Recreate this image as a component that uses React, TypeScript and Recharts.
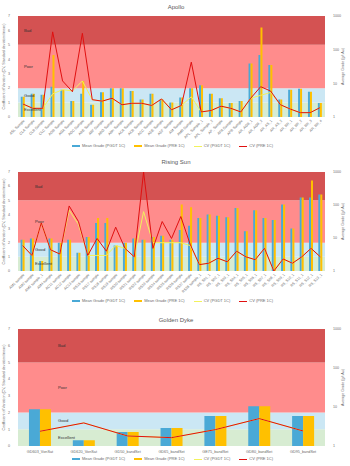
import React from "react";
import { ComposedChart, Bar, Line, XAxis, YAxis, ReferenceArea, Legend } from "recharts";

const FONT = "'Liberation Sans', Arial, sans-serif";
const BLUE = "#4aa9d6";
const GOLD = "#ffc000";
const CV_YELLOW = "#f2f25c";
const CV_RED = "#e01010";

const seriesNames = ["Mean Grade (PGDT 1C)", "Mean Grade (PRE 1C)", "CV (PGDT 1C)", "CV (PRE 1C)"];
const cvTicks = [0, 1, 2, 3, 4, 5, 6, 7];
const gradeTicks = [1, 10, 100, 1000];
const bandNames = ["Excellent", "Good", "Poor", "Bad"];
const bandLimits = [0, 1, 2, 5, 7];

// Apollo
const apolloCats = [
  "ASL Sample", "CLA Sample", "CLB Sample", "CLC Sample", "AGB Sample", "AGA Sample", "AGC Sample",
  "ABE Sample", "ABF Sample", "ABG Sample", "ABH Sample", "ACA Sample", "ACB Sample", "ACC Sample",
  "ADE Sample", "ADF Sample", "AM Sample", "AMB Sample", "APL_Sample_1", "APL_Sample_2", "AP_Sample",
  "APA Sample", "APB Sample", "AR_AGB_1", "AR_AGB_2", "AR_AS_1", "AR_AS_2", "AR_BR_1", "AR_BR_2",
  "AR_BR_3", "AR_BR_4",
];
const apolloPgdt = [4.0, 4.9, 4.6, 7.9, 6.5, 3.0, 4.9, 2.3, 5.4, 7.2, 7.2, 5.9, 3.3, 4.9, 3.3, 2.7, 3.8, 7.2, 8.8, 4.9, 3.6, 2.6, 3.0, 38.5, 70, 35, 3.3, 6.5, 6.9, 5.6, 2.6];
const apolloPre = [4.0, 4.9, 4.6, 70, 6.5, 3.0, 11.8, 2.3, 5.4, 7.2, 7.2, 5.9, 3.3, 4.9, 3.3, 2.7, 3.8, 7.2, 8.8, 4.9, 3.6, 2.6, 3.0, 38.5, 454, 35, 3.3, 6.5, 6.9, 5.6, 2.6];
const apolloCvPgdt = [0.9, 0.6, 0.6, 1.6, 1.9, 1.8, 2.5, 1.2, 1.1, 1.3, 0.85, 0.95, 0.95, 0.8, 1.25, 0.5, 0.8, 1.4, 0.35, 0.45, 0.75, 0.6, 0.35, 1.3, 1.5, 1.7, 0.85, 0.55, 0.3, 0.3, 0.65];
const apolloCvPre = [0.9, 0.6, 0.6, 5.9, 2.5, 1.75, 5.8, 1.2, 1.1, 1.3, 0.85, 0.95, 0.95, 0.8, 1.25, 0.5, 0.8, 3.8, 0.35, 0.45, 0.75, 0.6, 0.35, 1.3, 2.1, 1.8, 0.85, 0.55, 0.3, 0.3, 0.65];

// Rising Sun
const risingCats = [
  "AM1 sample", "AM2 sample", "AM3 sample_1", "AM4 sample", "AC11 sample", "AC12 sample", "AC13 sample",
  "RS16 sample", "RS17 sample", "RS18 sample", "RS19 sample", "RS20 sample", "RS21 sample", "RS22 sample",
  "RS23 sample", "RS24 sample", "RS25 sample", "RS26 sample", "RS27 sample", "RS28 sample_1",
  "RS_S01_1", "RS_S02_1", "RS_S03_1", "RS_S04_1", "RS_S05_1", "RS_S06_1", "RS_S07_1", "RS_S08_1",
  "RS_S09_1", "RS_S10_1", "RS_S11_1", "RS_S12_1", "RS_S13_1",
];
const risingPgdt = [8.8, 9.7, 2.0, 9.7, 7.2, 8.8, 3.6, 10.7, 28.7, 28.7, 5.9, 7.2, 9.7, 8.8, 10.7, 11.8, 8.8, 17.5, 23.5, 40.5, 51.8, 46.9, 42.5, 80.8, 15.9, 69.7, 40.5, 34.9, 103, 19.3, 169, 169, 207];
const risingPre = [8.8, 9.7, 2.0, 9.7, 7.2, 8.8, 3.6, 10.7, 40.5, 40.5, 5.9, 7.2, 9.7, 8.8, 10.7, 11.8, 8.8, 103, 84.8, 40.5, 51.8, 46.9, 42.5, 80.8, 15.9, 69.7, 40.5, 34.9, 103, 19.3, 169, 552, 207];
const risingCvPgdt = [1.8, 1.1, 3.4, 1.5, 1.2, 4.3, 3.3, 1.1, 1.1, 1.1, 1.8, 1.6, 1.0, 4.2, 2.0, 2.0, 2.0, 2.0, 1.8, 0.45, 0.55, 0.9, 0.65, 1.4, 1.0, 0.8, 1.6, 0.0, 0.85, 0.55, 1.0, 1.6, 1.0];
const risingCvPre = [1.8, 1.1, 3.4, 1.5, 1.2, 4.6, 3.5, 1.1, 2.3, 1.4, 3.1, 1.6, 1.0, 7.0, 1.6, 3.5, 2.3, 3.85, 1.9, 0.45, 0.55, 0.9, 0.65, 1.4, 1.0, 0.8, 1.6, 0.0, 0.85, 0.55, 1.0, 1.6, 1.0];

// Golden Dyke
const goldenCats = ["GD603_VonSat", "GD620_VonSat", "GD50_bandSet", "GD65_bandSet", "GE75_bandSet", "GD80_bandSet", "GD95_bandSet"];
const goldenPgdt = [8.8, 1.4, 2.3, 2.9, 5.9, 10.5, 5.9];
const goldenPre = [8.8, 1.4, 2.3, 2.9, 5.9, 10.5, 5.9];
const goldenCvPgdt = [0.88, 1.38, 0.6, 0.5, 0.98, 1.64, 0.9];
const goldenCvPre = [0.88, 1.38, 0.6, 0.5, 0.98, 1.64, 0.9];

const bandFills = ["#d7ecd2", "#cbe7f4", "#ff8c8c", "#d45252"];

function RotTick({ x, y, payload }: any) {
  return (
    <text
      transform={`translate(${x + 2},${y - 4}) rotate(-45)`}
      textAnchor="end"
      fontSize={3.6}
      fill="#6b6b6b"
      fontFamily={FONT}
    >
      {payload.value}
    </text>
  );
}

function FlatTick({ x, y, payload }: any) {
  return (
    <text x={x} y={y - 1} textAnchor="middle" fontSize={3.8} fill="#6b6b6b" fontFamily={FONT}>
      {payload.value}
    </text>
  );
}

function LegendRow() {
  return (
    <div
      style={{
        display: "flex",
        justifyContent: "center",
        alignItems: "center",
        fontSize: 4,
        lineHeight: "6px",
        color: "#6b6b6b",
        fontFamily: FONT,
        paddingLeft: 4,
      }}
    >
      {seriesNames.map((n, i) => (
        <div key={n} style={{ display: "flex", alignItems: "center", marginRight: 9 }}>
          <span
            style={{
              display: "inline-block",
              width: 8,
              height: i < 2 ? 2.5 : 1,
              background: [BLUE, GOLD, CV_YELLOW, CV_RED][i],
              marginRight: 2,
            }}
          />
          {n}
        </div>
      ))}
    </div>
  );
}

function Panel(props: any) {
  const { title, cats, pgdt, pre, cvPgdt, cvPre, height, top, xHeight, titleY, legendY, bandDx, rotate, catGap } = props;
  const data = cats.map((c: string, i: number) => ({
    name: c,
    pgdt: pgdt[i],
    pre: pre[i],
    cvPgdt: cvPgdt[i],
    cvPre: cvPre[i],
  }));
  return (
    <div style={{ position: "relative", width: 350, height }}>
      <div
        style={{
          position: "absolute",
          top: titleY,
          left: 0,
          width: 352,
          textAlign: "center",
          fontSize: 6,
          color: "#595959",
          fontFamily: FONT,
          zIndex: 2,
        }}
      >
        {title}
      </div>
      <ComposedChart
        width={350}
        height={height}
        data={data}
        margin={{ top, right: 5, bottom: 0, left: 0 }}
        barCategoryGap={catGap}
        barGap={0}
      >
        <XAxis
          dataKey="name"
          interval={0}
          height={xHeight}
          axisLine={false}
          tickLine={false}
          tick={rotate ? <RotTick /> : <FlatTick />}
        />
        <YAxis
          yAxisId="cv"
          domain={[0, 7]}
          ticks={cvTicks}
          width={18}
          axisLine={false}
          tickLine={false}
          tick={{ fontSize: 3.6, fill: "#6b6b6b", fontFamily: FONT }}
          label={{
            value: "Coefficient of Variation (CV, Standard deviation/mean)",
            angle: -90,
            position: "insideLeft",
            offset: 4,
            style: { fontSize: 3.6, fill: "#6b6b6b", fontFamily: FONT, textAnchor: "middle" },
          }}
        />
        <YAxis
          yAxisId="grade"
          orientation="right"
          scale="log"
          domain={[1, 1000]}
          ticks={gradeTicks}
          allowDataOverflow
          width={20}
          axisLine={false}
          tickLine={false}
          tick={{ fontSize: 3.6, fill: "#6b6b6b", fontFamily: FONT }}
          label={{
            value: "Average Grade (g/t Au)",
            angle: -90,
            position: "insideRight",
            offset: 2,
            style: { fontSize: 3.6, fill: "#6b6b6b", fontFamily: FONT, textAnchor: "middle" },
          }}
        />
        {bandNames.map((b, i) => (
          <ReferenceArea
            key={b}
            yAxisId="cv"
            y1={bandLimits[i]}
            y2={bandLimits[i + 1]}
            fill={bandFills[i]}
            fillOpacity={1}
            stroke="none"
            label={{
              value: b,
              position: "insideLeft",
              offset: bandDx,
              style: { fontSize: 4.2, fill: "#333", fontFamily: FONT },
            }}
          />
        ))}
        <Bar yAxisId="grade" dataKey="pgdt" name={seriesNames[0]} fill={BLUE} isAnimationActive={false} />
        <Bar yAxisId="grade" dataKey="pre" name={seriesNames[1]} fill={GOLD} isAnimationActive={false} />
        <Line
          yAxisId="cv"
          dataKey="cvPgdt"
          name={seriesNames[2]}
          stroke={CV_YELLOW}
          strokeWidth={1}
          dot={false}
          isAnimationActive={false}
        />
        <Line
          yAxisId="cv"
          dataKey="cvPre"
          name={seriesNames[3]}
          stroke={CV_RED}
          strokeWidth={1}
          dot={false}
          isAnimationActive={false}
        />
        <Legend
          verticalAlign="middle"
          align="center"
          content={<LegendRow />}
          wrapperStyle={{ top: legendY, left: 0, width: 350, height: 6 }}
        />
      </ComposedChart>
    </div>
  );
}

export default function App() {
  return (
    <div style={{ position: "absolute", left: 0, top: 0, width: 350, height: 466, background: "#fff" }}>
      <Panel
        title="Apollo"
        cats={apolloCats}
        pgdt={apolloPgdt}
        pre={apolloPre}
        cvPgdt={apolloCvPgdt}
        cvPre={apolloCvPre}
        height={152}
        top={16}
        xHeight={35}
        titleY={4}
        legendY={143}
        bandDx={6}
        rotate
        catGap="28%"
      />
      <Panel
        title="Rising Sun"
        cats={risingCats}
        pgdt={risingPgdt}
        pre={risingPre}
        cvPgdt={risingCvPgdt}
        cvPre={risingCvPre}
        height={156}
        top={20}
        xHeight={37}
        titleY={7}
        legendY={146}
        bandDx={17}
        rotate
        catGap="28%"
      />
      <Panel
        title="Golden Dyke"
        cats={goldenCats}
        pgdt={goldenPgdt}
        pre={goldenPre}
        cvPgdt={goldenCvPgdt}
        cvPre={goldenCvPre}
        height={158}
        top={21}
        xHeight={20}
        titleY={9}
        legendY={148}
        bandDx={40}
        catGap="25%"
      />
    </div>
  );
}
